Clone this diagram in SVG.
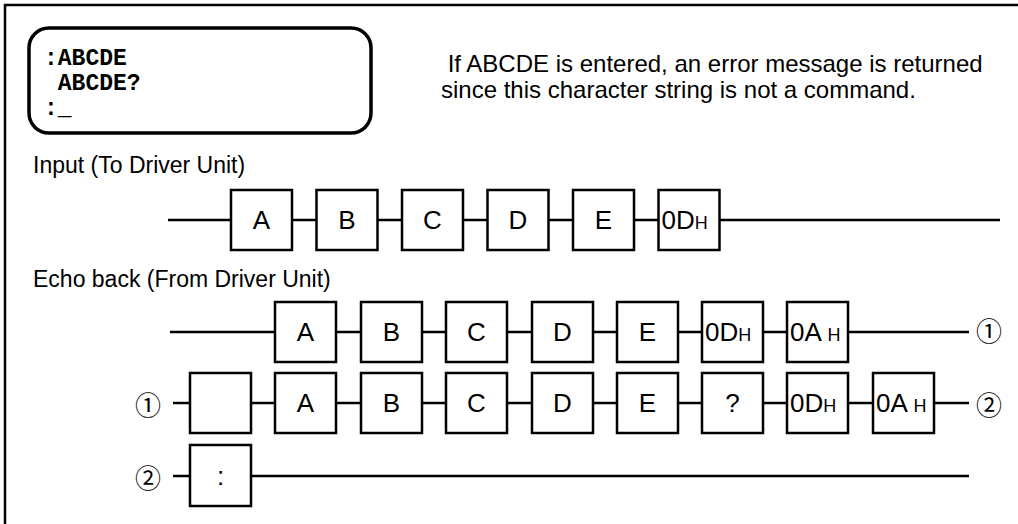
<svg xmlns="http://www.w3.org/2000/svg" width="1018" height="524" viewBox="0 0 1018 524">
<style>
.frame{fill:none;stroke:#000;stroke-width:2.5}
.term{fill:#fff;stroke:#000;stroke-width:3.5}
.mono{font-family:"Liberation Mono","DejaVu Sans Mono",monospace;font-weight:bold;font-size:23px;fill:#000}
.lbl{font-family:"Liberation Sans",Arial,sans-serif;font-size:23px;fill:#000}
.note{font-family:"Liberation Sans",Arial,sans-serif;font-size:24px;fill:#000}
.box{fill:#fff;stroke:#000;stroke-width:2.5}
.bt{font-family:"Liberation Sans",Arial,sans-serif;font-size:26px;fill:#000;text-anchor:middle}
.hx{font-family:"Liberation Sans",Arial,sans-serif;font-size:26px;fill:#000}
.sub{font-size:18px}
.wire{fill:none;stroke:#000;stroke-width:2.5}
.num{font-family:"Noto Sans CJK JP","DejaVu Sans",sans-serif;font-size:26px;fill:#000;text-anchor:middle;dominant-baseline:central}
</style>
<path class="frame" d="M5,524 V5 H1018"/>
<g id="terminal">
<rect class="term" x="29" y="28" width="342" height="105" rx="20"/>
<text class="mono" x="44" y="65">:ABCDE</text>
<text class="mono" x="44" y="90" xml:space="preserve"> ABCDE?</text>
<text class="mono" x="44" y="115">:_</text>
</g>
<g id="note">
<text class="note" x="441" y="72" xml:space="preserve"> If ABCDE is entered, an error message is returned</text>
<text class="note" x="441" y="98">since this character string is not a command.</text>
</g>
<text class="lbl" x="33" y="173">Input (To Driver Unit)</text>
<text class="lbl" x="33" y="287">Echo back (From Driver Unit)</text>
<g id="connectors">
<line class="wire" x1="168" y1="220" x2="1000" y2="220"/>
<line class="wire" x1="170" y1="332" x2="969" y2="332"/>
<line class="wire" x1="173" y1="403" x2="969" y2="403"/>
<line class="wire" x1="173" y1="476" x2="969" y2="476"/>
</g>
<g id="input-row">
<g id="in-A"><rect class="box" x="231" y="190" width="61" height="60"/><text class="bt" x="261.5" y="229">A</text></g>
<g id="in-B"><rect class="box" x="316.5" y="190" width="61" height="60"/><text class="bt" x="347" y="229">B</text></g>
<g id="in-C"><rect class="box" x="402" y="190" width="61" height="60"/><text class="bt" x="432.5" y="229">C</text></g>
<g id="in-D"><rect class="box" x="487.5" y="190" width="61" height="60"/><text class="bt" x="518" y="229">D</text></g>
<g id="in-E"><rect class="box" x="573" y="190" width="61" height="60"/><text class="bt" x="603.5" y="229">E</text></g>
<g id="in-0D"><rect class="box" x="658.5" y="190" width="61" height="60"/><text class="hx" x="661.5" y="229">0D<tspan class="sub">H</tspan></text></g>
</g>
<g id="echo-row1">
<g id="e1-A"><rect class="box" x="275" y="302" width="61" height="60"/><text class="bt" x="305.5" y="341">A</text></g>
<g id="e1-B"><rect class="box" x="361" y="302" width="61" height="60"/><text class="bt" x="391.5" y="341">B</text></g>
<g id="e1-C"><rect class="box" x="446" y="302" width="61" height="60"/><text class="bt" x="476.5" y="341">C</text></g>
<g id="e1-D"><rect class="box" x="532" y="302" width="61" height="60"/><text class="bt" x="562.5" y="341">D</text></g>
<g id="e1-E"><rect class="box" x="617" y="302" width="61" height="60"/><text class="bt" x="647.5" y="341">E</text></g>
<g id="e1-0D"><rect class="box" x="702" y="302" width="61" height="60"/><text class="hx" x="705" y="341">0D<tspan class="sub">H</tspan></text></g>
<g id="e1-0A"><rect class="box" x="787" y="302" width="61" height="60"/><text class="hx" x="790" y="341" xml:space="preserve">0A <tspan class="sub">H</tspan></text></g>
<text class="num" x="989" y="329">①</text>
</g>
<g id="echo-row2">
<text class="num" x="148" y="403">①</text>
<g id="e2-blank"><rect class="box" x="190" y="373" width="61" height="60"/></g>
<g id="e2-A"><rect class="box" x="275" y="373" width="61" height="60"/><text class="bt" x="305.5" y="412">A</text></g>
<g id="e2-B"><rect class="box" x="361" y="373" width="61" height="60"/><text class="bt" x="391.5" y="412">B</text></g>
<g id="e2-C"><rect class="box" x="446" y="373" width="61" height="60"/><text class="bt" x="476.5" y="412">C</text></g>
<g id="e2-D"><rect class="box" x="532" y="373" width="61" height="60"/><text class="bt" x="562.5" y="412">D</text></g>
<g id="e2-E"><rect class="box" x="617" y="373" width="61" height="60"/><text class="bt" x="647.5" y="412">E</text></g>
<g id="e2-q"><rect class="box" x="702" y="373" width="61" height="60"/><text class="bt" x="732.5" y="412">?</text></g>
<g id="e2-0D"><rect class="box" x="787" y="373" width="61" height="60"/><text class="hx" x="790" y="412">0D<tspan class="sub">H</tspan></text></g>
<g id="e2-0A"><rect class="box" x="873" y="373" width="61" height="60"/><text class="hx" x="876" y="412" xml:space="preserve">0A <tspan class="sub">H</tspan></text></g>
<text class="num" x="989" y="403">②</text>
</g>
<g id="echo-row3">
<text class="num" x="148" y="476">②</text>
<g id="e3-colon"><rect class="box" x="190" y="445" width="61" height="61"/><text class="bt" x="220.5" y="485">:</text></g>
</g>
</svg>
